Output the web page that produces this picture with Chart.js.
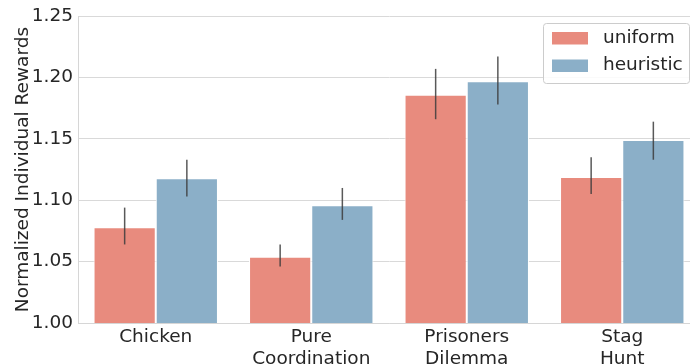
<!DOCTYPE html>
<html>
<head>
<meta charset="utf-8">
<script src="https://cdn.jsdelivr.net/npm/chart.js@4.4.0/dist/chart.umd.min.js"></script>
<style>
  html, body { margin: 0; padding: 0; background: #fff; overflow: hidden; }
  #wrap { width: 700px; height: 364px; position: relative; }
</style>
</head>
<body>
<div id="wrap"><canvas id="chart"></canvas></div>
<script>
// values
const games = [['Chicken'], ['Pure', 'Coordination'], ['Prisoners', 'Dilemma'], ['Stag', 'Hunt']];
const uniform = [1.078, 1.054, 1.186, 1.119];
const uniformLow = [1.064, 1.046, 1.166, 1.105];
const uniformHigh = [1.094, 1.064, 1.207, 1.135];
const heuristic = [1.118, 1.096, 1.197, 1.149];
const heuristicLow = [1.103, 1.084, 1.178, 1.133];
const heuristicHigh = [1.133, 1.110, 1.217, 1.164];
const yTicks = [1.00, 1.05, 1.10, 1.15, 1.20, 1.25];

const textColor = '#262626';
const font = { family: 'DejaVu Sans', size: 18.5 };

const errorBars = {
    id: 'errorBars',
    afterDatasetsDraw(chart) {
        const ctx = chart.ctx;
        const y = chart.scales.y;
        const ranges = [[uniformLow, uniformHigh], [heuristicLow, heuristicHigh]];
        ctx.save();
        ctx.strokeStyle = 'rgba(60,60,60,0.85)';
        ctx.lineWidth = 1.5;
        ranges.forEach((r, i) => {
            chart.getDatasetMeta(i).data.forEach((bar, j) => {
                ctx.beginPath();
                ctx.moveTo(bar.x, y.getPixelForValue(r[0][j]));
                ctx.lineTo(bar.x, y.getPixelForValue(r[1][j]));
                ctx.stroke();
            });
        });
        ctx.restore();
    }
};

// legend box floating in the top right corner
const boxLegend = {
    id: 'boxLegend',
    afterDraw(chart) {
        const ctx = chart.ctx;
        const x0 = 543, y0 = 23, w = 146, h = 60;
        ctx.save();
        ctx.fillStyle = 'rgba(255,255,255,0.85)';
        ctx.strokeStyle = '#cccccc';
        ctx.lineWidth = 1;
        ctx.beginPath();
        ctx.roundRect(x0 + 0.5, y0 + 0.5, w, h, 3);
        ctx.fill();
        ctx.stroke();
        ctx.font = '18.5px "DejaVu Sans"';
        ctx.textBaseline = 'middle';
        chart.data.datasets.forEach((ds, i) => {
            const cy = y0 + 15 + i * 27.5;
            ctx.fillStyle = ds.backgroundColor;
            ctx.fillRect(x0 + 9, cy - 6, 36, 12.5);
            ctx.fillStyle = textColor;
            ctx.fillText(ds.label, x0 + 60, cy);
        });
        ctx.restore();
    }
};

new Chart(document.getElementById('chart'), {
    type: 'bar',
    data: {
        labels: games,
        datasets: [
            { label: 'uniform', data: uniform, backgroundColor: '#e88b7e' },
            { label: 'heuristic', data: heuristic, backgroundColor: '#8bafc8' }
        ]
    },
    options: {
        responsive: true,
        maintainAspectRatio: false,
        animation: false,
        layout: { padding: { top: 14, left: 0, right: 0, bottom: 0 } },
        datasets: {
            bar: {
                categoryPercentage: 0.8,
                barPercentage: 1.0,
                borderWidth: 1,
                borderColor: '#ffffff'
            }
        },
        scales: {
            x: {
                grid: { display: false, drawTicks: false },
                border: { display: true, color: '#d6d6d6', width: 1 },
                ticks: { color: textColor, font: font, padding: 3, maxRotation: 0 },
                afterFit: s => { s.height = 41; }
            },
            y: {
                min: 1.0,
                max: 1.25,
                beginAtZero: false,
                afterBuildTicks: s => { s.ticks = yTicks.map(v => ({ value: v })); },
                afterFit: s => { s.width = 78; },
                grid: { color: '#d9d9d9', lineWidth: 1, drawTicks: false },
                border: { display: true, color: '#d6d6d6', width: 1 },
                ticks: {
                    color: textColor,
                    font: font,
                    padding: 5,
                    callback: v => v.toFixed(2)
                },
                title: {
                    display: true,
                    text: 'Normalized Individual Rewards',
                    color: textColor,
                    font: font,
                    padding: { top: 12, bottom: 0 }
                }
            }
        },
        plugins: {
            legend: { display: false },
            tooltip: { enabled: false }
        }
    },
    plugins: [errorBars, boxLegend]
});
</script>
</body>
</html>
